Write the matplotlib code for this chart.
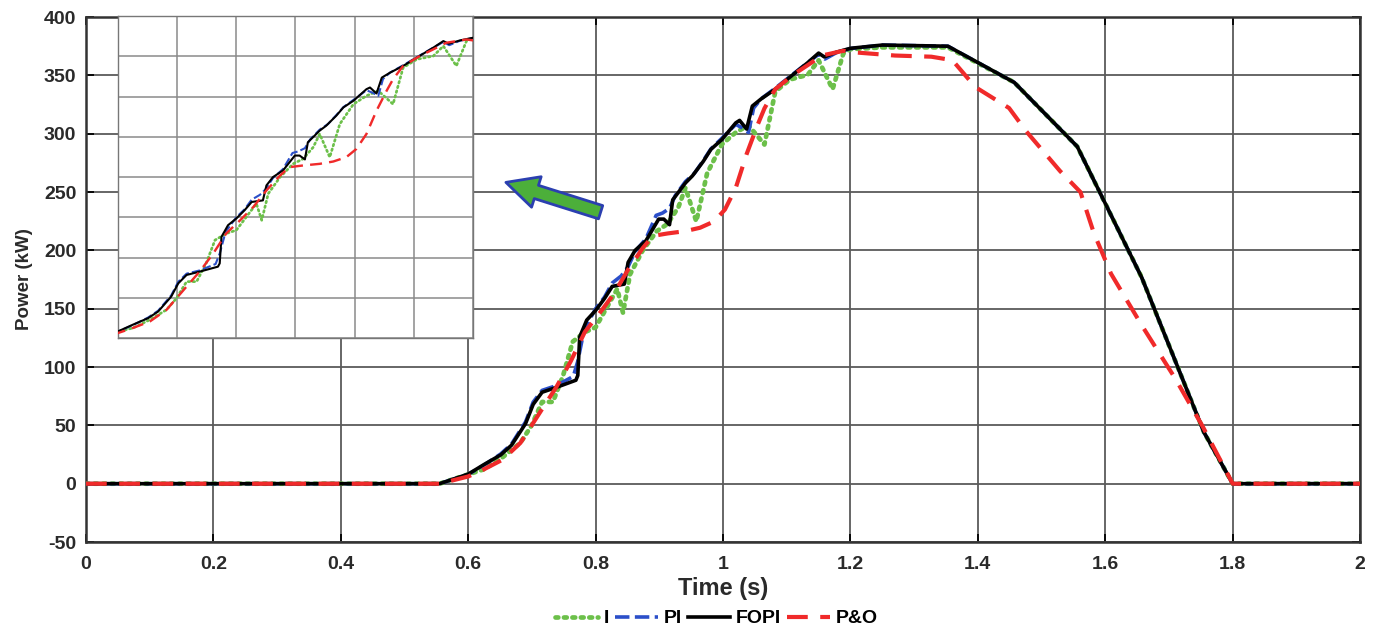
import matplotlib.pyplot as plt
import numpy as np

plt.rcParams['font.family'] = ['Liberation Sans', 'DejaVu Sans']
plt.rcParams['font.weight'] = 'bold'
plt.rcParams['axes.unicode_minus'] = False

# FOPI (black)
t_fopi = [0, 0.555, 0.600, 0.625, 0.651, 0.668, 0.690, 0.702, 0.716, 0.738, 0.769, 0.772, 0.775,
          0.786, 0.800, 0.814, 0.826, 0.845, 0.851, 0.862, 0.879, 0.899, 0.907, 0.916, 0.921,
          0.941, 0.952, 0.969, 0.981, 0.998, 1.020, 1.026, 1.037, 1.046, 1.060, 1.082, 1.105,
          1.133, 1.150, 1.159, 1.178, 1.200, 1.250, 1.353, 1.457, 1.556, 1.657, 1.755, 1.800, 2.0]
p_fopi = [0, 0, 8.2, 16.5, 24.7, 33.0, 51.5, 68.0, 78.4, 82.5, 88.7, 92.8, 125.8,
          140.2, 148.5, 158.8, 169.1, 171.1, 189.7, 200.0, 208.3, 226.8, 226.8, 222.0, 243.3,
          257.8, 263.9, 276.3, 286.6, 294.9, 309.3, 311.4, 304.0, 323.7, 329.9, 338.2, 348.5,
          360.9, 369.1, 365.8, 369.9, 373.2, 376.0, 375.0, 344.0, 289.0, 177.0, 44.0, 0, 0]

# PI (blue)
t_pi = [0, 0.555, 0.600, 0.625, 0.651, 0.668, 0.690, 0.702, 0.716, 0.738, 0.765, 0.772, 0.782,
        0.800, 0.814, 0.826, 0.840, 0.851, 0.862, 0.879, 0.895, 0.905, 0.916, 0.925,
        0.941, 0.955, 0.969, 0.981, 0.998, 1.020, 1.030, 1.040, 1.048, 1.060, 1.082, 1.105,
        1.133, 1.150, 1.160, 1.178, 1.200, 1.250, 1.353, 1.457, 1.556, 1.657, 1.755, 1.800, 2.0]
p_pi = [0, 0, 8.0, 16.0, 25.5, 34.0, 53.0, 70.0, 80.0, 84.0, 92.0, 105.0, 132.0,
        150.0, 160.0, 172.0, 178.0, 186.0, 199.0, 210.0, 230.0, 232.0, 236.0, 247.0,
        259.0, 266.0, 277.0, 287.0, 296.0, 308.0, 305.0, 301.0, 322.0, 330.0, 339.0, 349.0,
        361.0, 368.0, 364.0, 369.5, 373.0, 376.0, 375.0, 344.0, 289.0, 177.0, 44.0, 0, 0]

# I (green)
t_i = [0, 0.555, 0.600, 0.625, 0.654, 0.682, 0.699, 0.716, 0.733, 0.749, 0.764, 0.783, 0.800,
       0.817, 0.834, 0.843, 0.854, 0.874, 0.896, 0.913, 0.930, 0.941, 0.958, 0.975, 0.998,
       1.020, 1.040, 1.065, 1.082, 1.105, 1.133, 1.150, 1.172, 1.189, 1.200, 1.250, 1.353,
       1.457, 1.556, 1.657, 1.755, 1.800, 2.0]
p_i = [0, 0, 8.0, 12.4, 22.7, 35.1, 49.5, 70.1, 70.1, 92.8, 121.7, 129.9, 134.0,
       150.5, 167.0, 146.4, 179.4, 200.0, 216.5, 222.7, 237.1, 253.6, 224.8, 266.0, 290.7,
       301.1, 307.2, 290.7, 336.1, 346.4, 350.5, 362.9, 338.2, 369.1, 372.4, 374.0, 374.0,
       344.0, 289.0, 177.0, 44.0, 0, 0]

# P&O (red)
t_po = [0, 0.555, 0.600, 0.625, 0.654, 0.682, 0.716, 0.738, 0.761, 0.783, 0.806, 0.829, 0.851,
        0.874, 0.890, 0.913, 0.941, 0.964, 0.986, 1.003, 1.020, 1.037, 1.054, 1.065, 1.082,
        1.110, 1.133, 1.155, 1.189, 1.200, 1.270, 1.327, 1.360, 1.396, 1.449, 1.476, 1.529,
        1.561, 1.582, 1.609, 1.657, 1.710, 1.753, 1.800, 2.0]
p_po = [0, 0, 6.2, 12.4, 20.6, 35.0, 64.0, 82.5, 105.0, 130.0, 146.0, 163.0, 183.5,
        202.0, 212.4, 214.5, 216.5, 219.4, 224.8, 235.0, 253.6, 282.5, 307.2, 321.7, 338.2,
        350.5, 358.8, 367.0, 371.1, 370.0, 367.0, 366.0, 363.0, 340.0, 322.0, 302.0, 268.0,
        250.0, 215.0, 180.0, 136.0, 90.0, 49.0, 0, 0]

xticks = [0, 0.2, 0.4, 0.6, 0.8, 1, 1.2, 1.4, 1.6, 1.8, 2]
xticklabels = ['0', '0.2', '0.4', '0.6', '0.8', '1', '1.2', '1.4', '1.6', '1.8', '2']
yticks = [-50, 0, 50, 100, 150, 200, 250, 300, 350, 400]

grid_col = '#5a5a5a'
text_col = '#2a2a2a'

fig = plt.figure(figsize=(13.78, 6.31), dpi=100)
ax = fig.add_axes([0.0624, 0.141, 0.9246, 0.832])


def draw_lines(a, lw):
    a.plot(t_i, p_i, color='#6cc04a', ls=(0, (0.6, 1.2)), lw=lw * 1.3,
           dash_capstyle='round', label='I', zorder=3)
    a.plot(t_pi, p_pi, color='#2b4fc9', ls=(0, (4, 1.5)), lw=lw, label='PI', zorder=4)
    a.plot(t_fopi, p_fopi, color='black', ls='-', lw=lw, label='FOPI', zorder=5)
    a.plot(t_po, p_po, color='#f02a2a', ls=(0, (5, 3)), lw=lw * 1.15, label='P&O', zorder=6)


draw_lines(ax, 2.6)
ax.set_xlim(0, 2)
ax.set_ylim(-50, 400)
ax.set_xticks(xticks)
ax.set_xticklabels(xticklabels)
ax.set_yticks(yticks)
ax.grid(True, color=grid_col, lw=1.3)
ax.tick_params(direction='in', top=True, right=True, labelsize=14, length=6, width=1.3,
               labelcolor=text_col)
ax.tick_params(axis='x', pad=10)
ax.tick_params(axis='y', pad=7)
for s in ax.spines.values():
    s.set_linewidth(1.8)
    s.set_color('#333333')
ax.set_xlabel('Time (s)', fontsize=17, fontweight='bold', labelpad=3, color=text_col)
ax.set_ylabel('Power (kW)', fontsize=13.5, fontweight='bold', labelpad=8, color=text_col)

handles, labels = ax.get_legend_handles_labels()
fig.legend(handles, labels, loc='lower center',
           bbox_to_anchor=(0.52, -0.022), ncol=4, frameon=False, fontsize=14,
           handlelength=2.2, columnspacing=0.3, handletextpad=0.3)

# arrow pointing towards the zoomed inset
ax.annotate('', xy=(0.655, 259), xytext=(0.812, 232),
            arrowprops=dict(arrowstyle='simple,head_width=2.3,head_length=2.3,tail_width=1.0',
                            fc='#4caf3a', ec='#2b3fb0', lw=2))

# zoomed inset
axin = fig.add_axes([0.0856, 0.4643, 0.2576, 0.510])
draw_lines(axin, 1.5)
axin.set_xlim(0.6, 1.2)
axin.set_ylim(0, 400)
axin.set_xticks(np.arange(0.6, 1.21, 0.1))
axin.set_yticks(np.arange(0, 401, 50))
axin.set_xticklabels([])
axin.set_yticklabels([])
axin.tick_params(length=0)
axin.grid(True, color='#8a8a8a', lw=1.1)
for s in axin.spines.values():
    s.set_color('#777777')
    s.set_linewidth(1.0)

fig.savefig('out.png', dpi=100)
